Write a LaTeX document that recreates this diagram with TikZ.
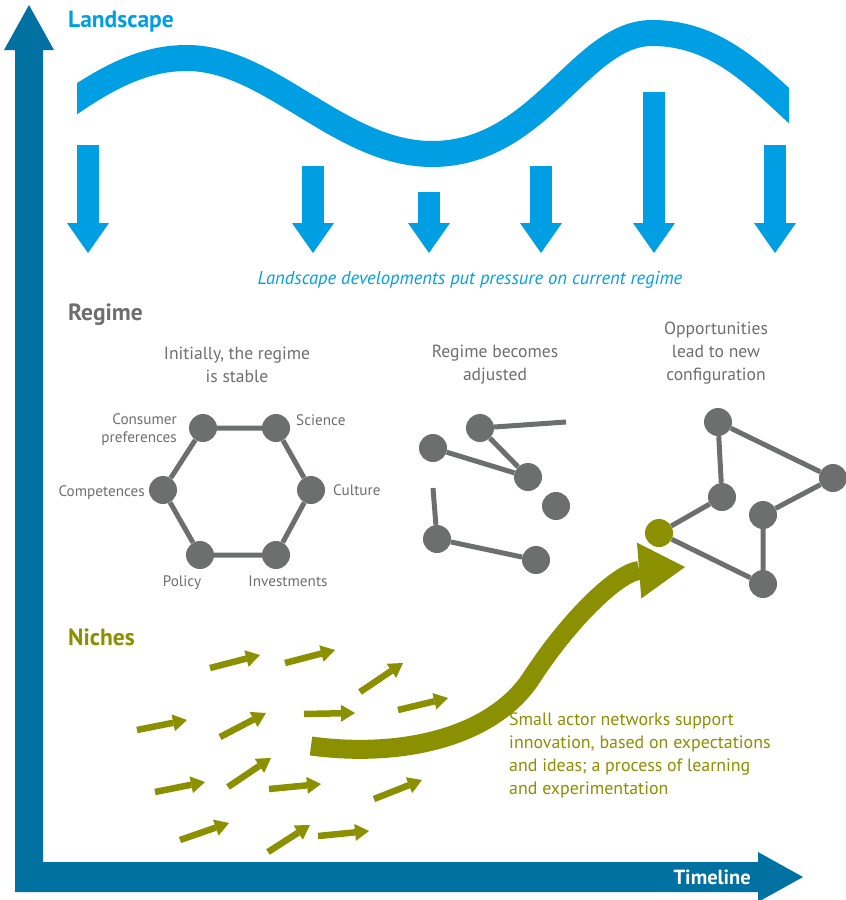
\documentclass[tikz,border=0pt]{standalone}
\usepackage{fontspec}
\setmainfont{PT Sans}
\usetikzlibrary{arrows.meta}

\definecolor{landblue}{HTML}{009FE3}
\definecolor{axisblue}{HTML}{0071A1}
\definecolor{regimegrey}{HTML}{6D6E6E}
\definecolor{nicheolive}{HTML}{8A9000}

\tikzset{
  actor/.style={circle, fill=regimegrey, minimum size=28pt, inner sep=0pt},
  link/.style={draw=regimegrey, line width=5pt},
  factor/.style={text=regimegrey, inner sep=0pt, font=\fontsize{15.2}{18}\selectfont},
  caption/.style={text=regimegrey, inner sep=0pt, align=center, font=\fontsize{17.6}{23}\selectfont},
  level/.style={anchor=west, inner sep=0pt, font=\fontsize{23.5}{26}\selectfont\bfseries},
  pressure/.style={draw=landblue, line width=22pt, -{Triangle[length=30pt,width=42pt,line width=0pt]}},
  shoot/.style={draw=nicheolive, line width=6.5pt, -{Triangle[length=14pt,width=17pt,line width=0pt]}},
  growth/.style={draw=nicheolive, line width=19pt, -{Triangle[length=46pt,width=56pt,line width=0pt]}}
}

\begin{document}
\begin{tikzpicture}[x=1pt, y=-1pt, line join=miter]
  \useasboundingbox (0,0) rectangle (846,900);

  % axes
  \fill[axisblue] (15,892) -- (15,50) -- (4,50) -- (29,5) -- (54,50) -- (43,50)
    -- (43,862) -- (758,862) -- (758,852) -- (803,877) -- (758,902) -- (758,892) -- cycle;
  \node[anchor=east, inner sep=0pt, text=white, font=\fontsize{20.5}{22}\selectfont\bfseries]
    (timeline) at (751,877) {Timeline};

  % landscape wave
  \begin{scope}
    \clip (77,0) rectangle (789,200);
    \draw[landblue, line width=26pt] (40,125) .. controls (100,80) and (140,58) .. (187,58)
      .. controls (270,58) and (340,154) .. (432,154)
      .. controls (540,154) and (580,33) .. (652,33)
      .. controls (720,33) and (760,80) .. (810,125);
  \end{scope}
  \foreach \x/\top in {88/145, 313/166, 429/192, 541/166, 654/92, 775/145}
    \draw[pressure] (\x,\top) -- (\x,253);

  % level titles
  \node[level, text=landblue] (land) at (68,22) {Landscape};
  \node[level, text=regimegrey] (regime) at (68,315) {Regime};
  \node[level, text=nicheolive] (niches) at (68,637) {Niches};
  \node[text=landblue, inner sep=0pt, font=\fontsize{18.6}{22}\selectfont\itshape]
    (pressuretext) at (470,280) {Landscape developments put pressure on current regime};

  % stable regime
  \node[caption] (stablecap) at (237,365) {Initially, the regime\\is stable};
  \node[actor] (cons) at (203,428) {};
  \node[actor] (sci) at (276,428) {};
  \node[actor] (cult) at (311,490) {};
  \node[actor] (inv) at (276,555) {};
  \node[actor] (pol) at (200,555) {};
  \node[actor] (comp) at (163,490) {};
  \draw[link] (cons) -- (sci) -- (cult) -- (inv) -- (pol) -- (comp) -- (cons);
  \node[factor, anchor=east, align=right] (conslbl) at (177,430) {Consumer\\preferences};
  \node[factor, anchor=west] (scilbl) at (296,420) {Science};
  \node[factor, anchor=west] (cultlbl) at (333,490) {Culture};
  \node[factor, anchor=east] (complbl) at (145,493) {Competences};
  \node[factor] (pollbl) at (182,583) {Policy};
  \node[factor] (invlbl) at (288,581) {Investments};

  % adjusted regime
  \node[caption] (adjcap) at (495,365) {Regime becomes\\adjusted};
  \node[actor] (a1) at (480,428) {};
  \node[actor] (a2) at (433,448) {};
  \node[actor] (a3) at (528,477) {};
  \node[actor] (a4) at (556,506) {};
  \node[actor] (a5) at (437,539) {};
  \node[actor] (a6) at (536,560) {};
  \coordinate (a1end) at (566,422);
  \coordinate (a5end) at (433,488);
  \draw[link] (a1) -- (a1end);
  \draw[link] (a1) -- (a3);
  \draw[link] (a2) -- (a3);
  \draw[link] (a5) -- (a5end);
  \draw[link] (a5) -- (a6);

  % new configuration
  \node[caption] (newcap) at (716,353) {Opportunities\\lead to new\\configuration};
  \node[actor] (c1) at (718,422) {};
  \node[actor] (c2) at (833,478) {};
  \node[actor] (c3) at (722,497) {};
  \node[actor] (c4) at (763,515) {};
  \node[actor, fill=nicheolive] (niche) at (659,533) {};
  \node[actor] (c5) at (763,584) {};
  \draw[link] (c1) -- (c2) -- (c4) -- (c5) -- (niche) -- (c3) -- (c1);

  % niches
  \foreach \xa/\ya/\xb/\yb in {210/668/260/655, 285/663/335/650, 360/692/403/663,
      137/730/187/720, 220/737/266/713, 304/714/355/713, 398/710/448/698,
      155/792/205/782, 228/787/271/758, 269/789/321/784, 374/799/422/780,
      180/840/229/823, 268/852/310/825, 318/836/369/831}
    \draw[shoot] (\xa,\ya) -- (\xb,\yb);
  \draw[growth] (311,746) .. controls (400,758) and (490,738) .. (530,680)
    .. controls (572,615) and (620,572) .. (685,567);
  \node[anchor=north west, inner sep=0pt, align=left, text=nicheolive,
    font=\fontsize{17.9}{23}\selectfont] (nichetext) at (509,713)
    {Small actor networks support\\innovation, based on expectations\\and ideas; a process of learning\\and experimentation};
\end{tikzpicture}
\end{document}
